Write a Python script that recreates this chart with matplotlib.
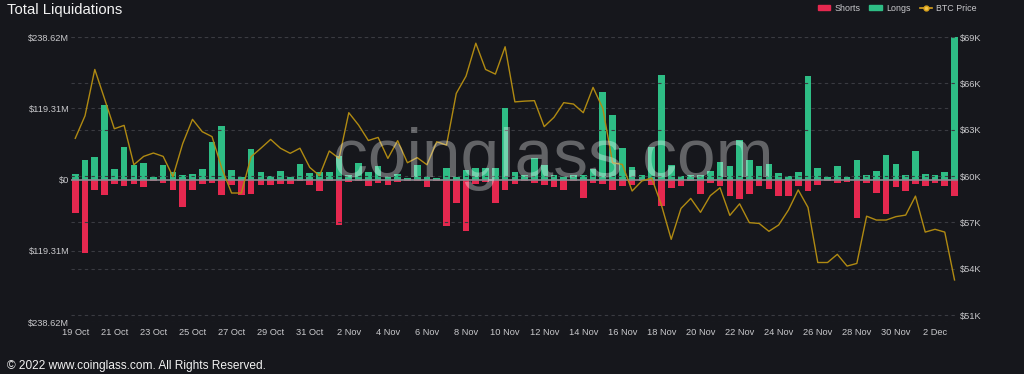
import numpy as np
import matplotlib
matplotlib.use('Agg')
import matplotlib.pyplot as plt
from matplotlib.patches import Patch
from matplotlib.lines import Line2D

plt.rcParams['font.family'] = ['Liberation Sans', 'DejaVu Sans']

# 12h liquidation buckets, 19 Oct 2021 00:00 -> 3 Dec 2021 00:00 (values in $M)
longs = [10, 32, 38, 125, 18, 55, 24, 27, 4, 25, 12, 7, 9, 18, 63,
         90, 16, 3.5, 51, 13, 6, 15, 5, 26, 11, 13, 12, 40, 8, 27,
         13, 22, 5, 9.5, 2, 24, 4.5, 3, 19, 4.5, 16, 20, 20, 20, 119,
         12, 8, 36, 24, 8, 4, 8, 7, 17, 146, 108, 52, 21, 7, 54,
         175, 25, 6, 7, 8, 15, 29, 23, 66, 32, 23, 26, 11, 6, 12,
         174, 20, 3.4, 22, 3.4, 33, 7, 15, 41, 26, 8, 48, 9, 8, 12,
         238.62]
shorts = [56, 123, 17, 26, 8, 11, 8, 12, 3, 6, 18, 46, 17, 7, 5,
          26, 10, 26, 25, 10, 10, 7, 7, 3, 10, 19, 3, 76, 4.5, 3,
          11, 5, 9, 4, 1.7, 3, 13, 1.7, 77, 39, 86, 7, 4.5, 39, 17,
          7, 3, 5.6, 10, 13, 17, 3, 31, 6, 8, 17, 11, 10, 3, 9,
          44, 15, 11, 3, 25, 5, 11, 27, 33, 25, 11, 16, 27, 27, 11,
          19, 10, 3, 5, 4.5, 65, 6, 23, 57, 12, 20, 7, 11, 6, 11,
          27]
btc_price = [62.44, 63.9, 66.9, 65.0, 63.06, 63.28, 60.73, 61.27, 61.49, 61.27,
             59.96, 62.1, 63.67, 62.87, 62.55, 60.5, 58.9, 58.9, 61.25, 61.8,
             62.37, 61.8, 61.47, 61.8, 60.56, 60.02, 61.62, 61.14, 64.1, 63.3,
             62.3, 62.5, 61.14, 62.29, 60.86, 61.19, 60.73, 62.22, 62.0, 65.35,
             66.47, 68.6, 66.9, 66.6, 68.37, 64.8, 64.85, 64.88, 63.2, 63.8,
             64.75, 64.66, 64.1, 65.74, 64.38, 60.86, 60.75, 59.03, 59.68, 59.87,
             58.12, 55.9, 57.9, 58.55, 57.65, 58.73, 59.24, 57.45, 58.2, 56.98,
             56.93, 56.42, 56.83, 57.8, 59.1, 57.97, 54.4, 54.4, 54.93, 54.17,
             54.34, 57.4, 57.15, 57.15, 57.37, 57.47, 58.7, 56.37, 56.55, 56.37,
             53.27]
date_labels = ['19 Oct', '21 Oct', '23 Oct', '25 Oct', '27 Oct', '29 Oct', '31 Oct',
               '2 Nov', '4 Nov', '6 Nov', '8 Nov', '10 Nov', '12 Nov', '14 Nov',
               '16 Nov', '18 Nov', '20 Nov', '22 Nov', '24 Nov', '26 Nov', '28 Nov',
               '30 Nov', '2 Dec']
left_ticks = [-238.62, -119.31, 0, 119.31, 238.62]
right_ticks = [51, 54, 57, 60, 63, 66, 69]

bg = '#16171c'
green = '#2ebd85'
red = '#e5284f'
gold = '#b08a12'
tick_color = '#c9c9cc'
grid_color = '#3a3b41'

x = np.arange(len(longs))

fig = plt.figure(figsize=(10.24, 3.74), dpi=100, facecolor=bg)
ax = fig.add_axes([0.069, 0.139, 0.8665, 0.762])
ax.set_facecolor(bg)

ax.bar(x, longs, width=0.68, color=green, zorder=2)
ax.bar(x, [-s for s in shorts], width=0.68, color=red, zorder=2)
ax.axhline(0, color='#8a8a90', lw=1.2, zorder=3)

ax.set_xlim(-0.47, 90.35)
ax.set_ylim(-238.62, 238.62)
ax.set_yticks(left_ticks)
ax.set_yticklabels(['$238.62M', '$119.31M', '$0', '$119.31M', '$238.62M'])
ax.set_xticks(x[::4])
ax.set_xticklabels(date_labels)
ax.tick_params(axis='both', length=0, colors=tick_color, labelsize=6.7)
ax.tick_params(axis='y', pad=1)
ax.tick_params(axis='x', pad=4)
for v in left_ticks:
    if v != 0:
        ax.axhline(v, color=grid_color, lw=0.8, ls=(0, (3, 3)), zorder=1)
for s in ax.spines.values():
    s.set_visible(False)

ax2 = ax.twinx()
ax2.plot(x, btc_price, color=gold, lw=1.0, zorder=4)
ax2.set_ylim(50.547, 69)
ax2.set_yticks(right_ticks)
ax2.set_yticklabels(['$%dK' % v for v in right_ticks])
ax2.tick_params(axis='y', length=0, colors=tick_color, labelsize=6.7, pad=1.5)
for v in right_ticks:
    ax2.axhline(v, color=grid_color, lw=0.8, ls=(0, (3, 3)), zorder=1)
for s in ax2.spines.values():
    s.set_visible(False)

fig.text(0.007, 0.972, 'Total Liquidations', color='#f2f2f2', fontsize=10.7,
         ha='left', va='center')
fig.text(0.007, 0.021, '\u00a9 2022 www.coinglass.com. All Rights Reserved.',
         color='#f2f2f2', fontsize=8.6, ha='left', va='center')
# watermark
fig.text(553 / 1024, 1 - 177 / 374, 'coinglass.com', color='white', alpha=0.33,
         fontsize=50, ha='center', va='baseline')

handles = [Patch(facecolor=red, edgecolor=red),
           Patch(facecolor=green, edgecolor=green),
           Line2D([0], [0], color='#d9a21c', lw=1.2, marker='o', markersize=3.5,
                  markerfacecolor='#f3c54a', markeredgecolor='#d9a21c')]
fig.legend(handles, ['Shorts', 'Longs', 'BTC Price'], loc='center right',
           bbox_to_anchor=(0.962, 0.978), ncol=3, frameon=False, fontsize=6.4,
           labelcolor=tick_color, handlelength=1.4, handleheight=0.5,
           columnspacing=1.0, handletextpad=0.5)

plt.savefig('out.png', dpi=100, facecolor=bg)
